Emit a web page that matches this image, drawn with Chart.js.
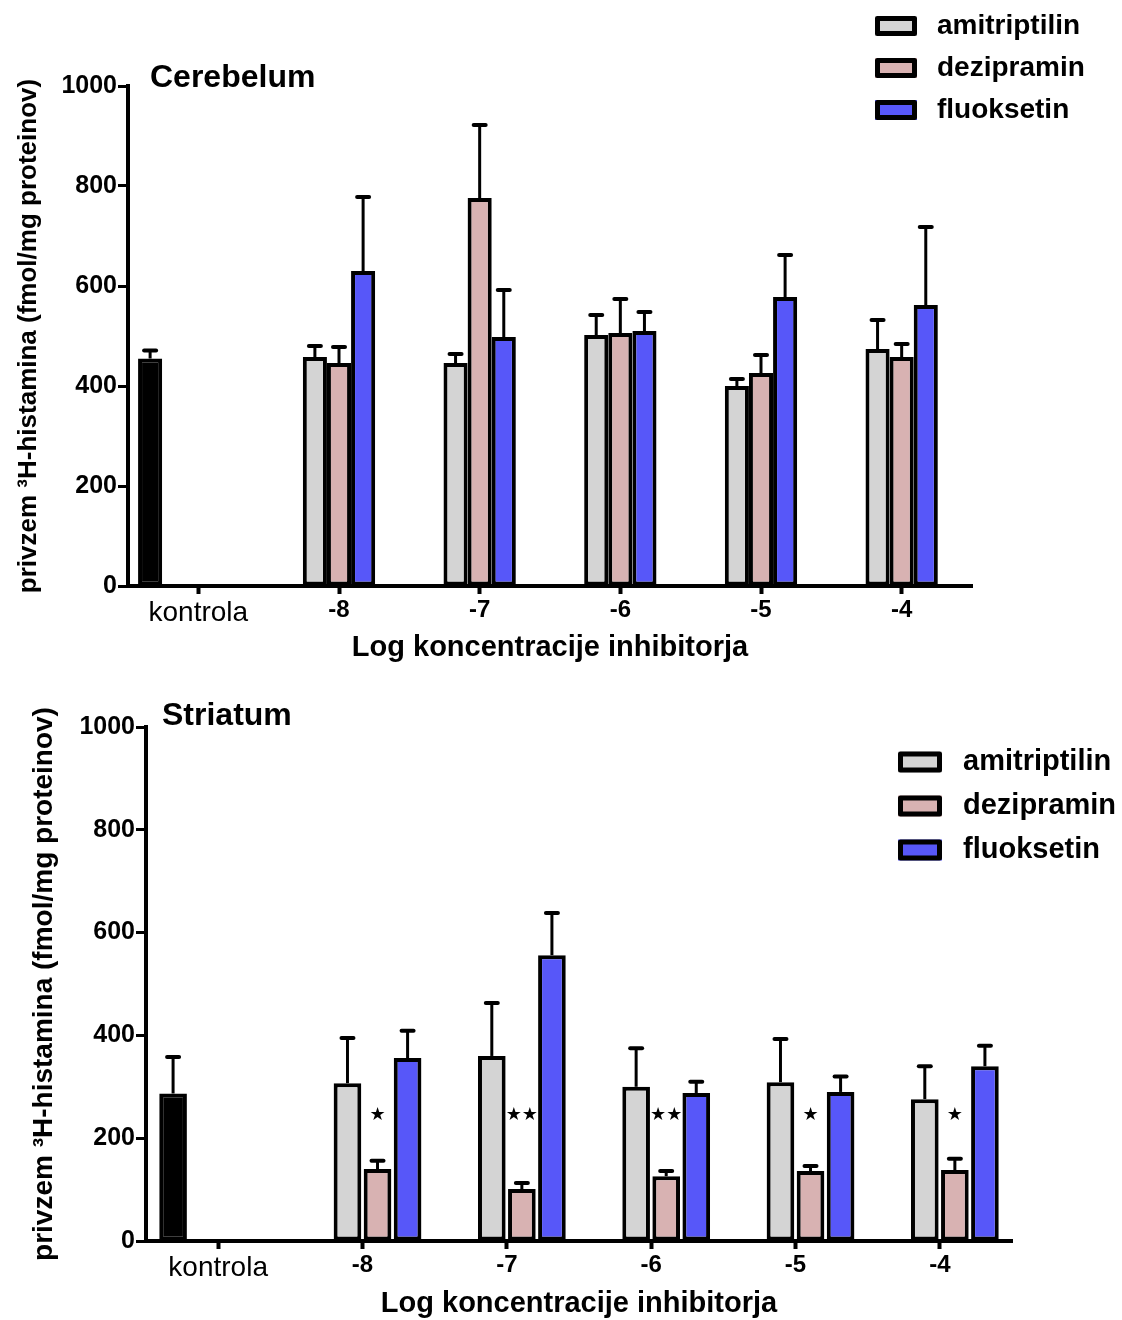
<!DOCTYPE html>
<html>
<head>
<meta charset="utf-8">
<script src="https://cdn.jsdelivr.net/npm/chart.js@4.4.1/dist/chart.umd.min.js"></script>
<style>
  html, body { margin: 0; padding: 0; background: #fff; }
  .box { position: relative; width: 1122px; }
  #topBox { height: 670px; }
  #bottomBox { height: 650px; }
</style>
</head>
<body>
<div class="box" id="topBox"><canvas id="cerebelum"></canvas></div>
<div class="box" id="bottomBox"><canvas id="striatum"></canvas></div>
<script>
// ── Data ───────────────────────────────────────────────────────────
var categories = ['kontrola', '-8', '-7', '-6', '-5', '-4'];

// Cerebelum: means and upper error (SEM)
var cerKontrola        = [455, null, null, null, null, null];
var cerKontrolaErr     = [16, null, null, null, null, null];
var cerAmitriptilin    = [null, 458, 446, 502, 400, 474];
var cerAmitriptilinErr = [null, 22, 18, 40, 14, 58];
var cerDezipramin      = [null, 446, 776, 506, 426, 458];
var cerDezipraminErr   = [null, 32, 146, 68, 36, 26];
var cerFluoksetin      = [null, 630, 498, 510, 578, 562];
var cerFluoksetinErr   = [null, 148, 94, 38, 84, 156];

// Striatum
var strKontrola        = [287, null, null, null, null, null];
var strKontrolaErr     = [71, null, null, null, null, null];
var strAmitriptilin    = [null, 307, 360, 300, 309, 276];
var strAmitriptilinErr = [null, 88, 103, 75, 84, 64];
var strDezipramin      = [null, 140, 101, 126, 136, 138];
var strDezipraminErr   = [null, 16, 12, 10, 10, 22];
var strFluoksetin      = [null, 356, 556, 288, 290, 340];
var strFluoksetinErr   = [null, 53, 82, 22, 30, 40];
var strStars           = ['', '★', '★★', '★★', '★', '★'];

var yTicks = [0, 200, 400, 600, 800, 1000];

var COLORS = { kontrola: '#000000', amitriptilin: '#d4d4d4', dezipramin: '#d8b2b2', fluoksetin: '#5757f9' };
var FONT = '"Liberation Sans", Arial, Helvetica, sans-serif';

// ── Plugins ────────────────────────────────────────────────────────
var errorBars = {
  id: 'errorBars',
  afterDatasetsDraw: function(chart) {
    var ctx = chart.ctx;
    var y = chart.scales.y;
    chart.data.datasets.forEach(function(ds, di) {
      if (!ds.errors) return;
      var meta = chart.getDatasetMeta(di);
      meta.data.forEach(function(bar, i) {
        var v = ds.data[i], e = ds.errors[i];
        if (v == null || e == null) return;
        var top = y.getPixelForValue(v + e);
        ctx.save();
        ctx.strokeStyle = '#000';
        ctx.lineWidth = 3;
        ctx.beginPath();
        ctx.moveTo(bar.x, bar.y);
        ctx.lineTo(bar.x, top);
        ctx.stroke();
        ctx.lineWidth = 4;
        ctx.lineCap = 'round';
        ctx.beginPath();
        ctx.moveTo(bar.x - 6, top);
        ctx.lineTo(bar.x + 6, top);
        ctx.stroke();
        ctx.restore();
      });
    });
  }
};

var boxLegend = {
  id: 'boxLegend',
  afterDraw: function(chart, args, opts) {
    var ctx = chart.ctx;
    var row = 0;
    chart.data.datasets.forEach(function(ds) {
      if (!ds.inLegend) return;
      var cy = opts.y + row * opts.rowGap;
      ctx.save();
      ctx.fillStyle = ds.backgroundColor;
      ctx.fillRect(opts.x, cy - opts.boxH / 2, opts.boxW, opts.boxH);
      ctx.strokeStyle = '#000';
      ctx.lineWidth = 5;
      ctx.lineJoin = 'round';
      ctx.strokeRect(opts.x + 2.5, cy - opts.boxH / 2 + 2.5, opts.boxW - 5, opts.boxH - 5);
      ctx.fillStyle = '#000';
      ctx.font = 'bold ' + opts.fontSize + 'px ' + FONT;
      ctx.textBaseline = 'middle';
      ctx.fillText(ds.label, opts.textX, cy);
      ctx.restore();
      row++;
    });
  }
};

var panelTitle = {
  id: 'panelTitle',
  afterDraw: function(chart, args, opts) {
    var ctx = chart.ctx;
    ctx.save();
    ctx.fillStyle = '#000';
    ctx.font = 'bold 32px ' + FONT;
    ctx.textBaseline = 'middle';
    ctx.fillText(opts.text, opts.x, opts.y);
    ctx.restore();
  }
};

var stars = {
  id: 'stars',
  afterDatasetsDraw: function(chart, args, opts) {
    if (!opts.marks) return;
    var ctx = chart.ctx;
    var meta = chart.getDatasetMeta(opts.datasetIndex);
    var py = chart.scales.y.getPixelForValue(opts.level);
    ctx.save();
    ctx.fillStyle = '#000';
    ctx.font = '18px "DejaVu Sans", sans-serif';
    ctx.textAlign = 'center';
    ctx.textBaseline = 'middle';
    opts.marks.forEach(function(m, i) {
      if (!m || !meta.data[i]) return;
      ctx.fillText(m, meta.data[i].x, py);
    });
    ctx.restore();
  }
};

// ── Chart builder ──────────────────────────────────────────────────
function makeChart(id, cfg) {
  var datasets = [
    { label: 'kontrola', data: cfg.kontrola, errors: cfg.kontrolaErr, backgroundColor: COLORS.kontrola },
    { label: 'amitriptilin', data: cfg.amitriptilin, errors: cfg.amitriptilinErr, backgroundColor: COLORS.amitriptilin, inLegend: true },
    { label: 'dezipramin', data: cfg.dezipramin, errors: cfg.dezipraminErr, backgroundColor: COLORS.dezipramin, inLegend: true },
    { label: 'fluoksetin', data: cfg.fluoksetin, errors: cfg.fluoksetinErr, backgroundColor: COLORS.fluoksetin, inLegend: true }
  ];
  if (cfg.extraSlot) {
    // empty slot, keeps GraphPad-style spacing of the groups
    datasets.push({ label: '', data: categories.map(function() { return null; }) });
  }
  datasets.forEach(function(ds) {
    ds.borderColor = '#000';
    ds.borderWidth = 4;
    ds.borderSkipped = false;
    ds.barPercentage = cfg.barPct;
    ds.categoryPercentage = cfg.catPct;
  });

  return new Chart(document.getElementById(id).getContext('2d'), {
    type: 'bar',
    data: { labels: categories, datasets: datasets },
    plugins: [errorBars, boxLegend, panelTitle, stars],
    options: {
      responsive: true,
      maintainAspectRatio: false,
      animation: false,
      layout: { padding: { left: 0, right: cfg.padRight, top: cfg.padTop, bottom: 0 } },
      plugins: {
        legend: { display: false },
        tooltip: { enabled: false },
        boxLegend: cfg.legend,
        panelTitle: cfg.title,
        stars: cfg.stars || {}
      },
      scales: {
        x: {
          afterFit: function(s) { s.height = cfg.xHeight; },
          grid: { display: true, offset: false, drawOnChartArea: false, drawTicks: true,
                  tickLength: 8, tickWidth: 4, tickColor: '#000' },
          border: { display: true, width: 4, color: '#000' },
          ticks: {
            color: '#000',
            padding: 2,
            font: function(c) {
              return c.index === 0 ? { family: FONT, size: 28, weight: 'normal' }
                                   : { family: FONT, size: 24, weight: 'bold' };
            }
          },
          title: {
            display: true,
            text: 'Log koncentracije inhibitorja',
            color: '#000',
            font: { family: FONT, size: 29, weight: 'bold' },
            padding: { top: 0, bottom: cfg.xTitlePad }
          }
        },
        y: {
          min: 0,
          max: 1000,
          afterFit: function(s) { s.width = cfg.yWidth; },
          afterBuildTicks: function(s) { s.ticks = yTicks.map(function(v) { return { value: v }; }); },
          grid: { display: true, drawOnChartArea: false, drawTicks: true,
                  tickLength: 10, tickWidth: 3, tickColor: '#000' },
          border: { display: true, width: 4, color: '#000' },
          ticks: {
            color: '#000',
            padding: 1,
            font: { family: FONT, size: 25, weight: 'bold' },
            callback: function(v) { return String(v); }
          },
          title: {
            display: true,
            text: 'privzem ³H-histamina (fmol/mg proteinov)',
            color: '#000',
            font: { family: FONT, size: cfg.yTitleSize, weight: 'bold' },
            padding: { top: cfg.yTitlePad, bottom: 0 }
          }
        }
      }
    }
  });
}

makeChart('cerebelum', {
  kontrola: cerKontrola, kontrolaErr: cerKontrolaErr,
  amitriptilin: cerAmitriptilin, amitriptilinErr: cerAmitriptilinErr,
  dezipramin: cerDezipramin, dezipraminErr: cerDezipraminErr,
  fluoksetin: cerFluoksetin, fluoksetinErr: cerFluoksetinErr,
  extraSlot: true, barPct: 1.0, catPct: 0.857,
  padTop: 86, padRight: 150, yWidth: 128, xHeight: 84, xTitlePad: 5,
  yTitlePad: 13, yTitleSize: 26,
  title: { text: 'Cerebelum', x: 150, y: 78 },
  legend: { x: 875, y: 26, rowGap: 42, boxW: 42, boxH: 20, textX: 937, fontSize: 28 }
});

makeChart('striatum', {
  kontrola: strKontrola, kontrolaErr: strKontrolaErr,
  amitriptilin: strAmitriptilin, amitriptilinErr: strAmitriptilinErr,
  dezipramin: strDezipramin, dezipraminErr: strDezipraminErr,
  fluoksetin: strFluoksetin, fluoksetinErr: strFluoksetinErr,
  extraSlot: false, barPct: 0.92, catPct: 0.833,
  padTop: 57, padRight: 110, yWidth: 146, xHeight: 79, xTitlePad: -1,
  yTitlePad: 27, yTitleSize: 28,
  title: { text: 'Striatum', x: 162, y: 46 },
  legend: { x: 898, y: 92, rowGap: 44, boxW: 44, boxH: 21, textX: 963, fontSize: 29 },
  stars: { marks: strStars, datasetIndex: 2, level: 245 }
});
</script>
</body>
</html>
